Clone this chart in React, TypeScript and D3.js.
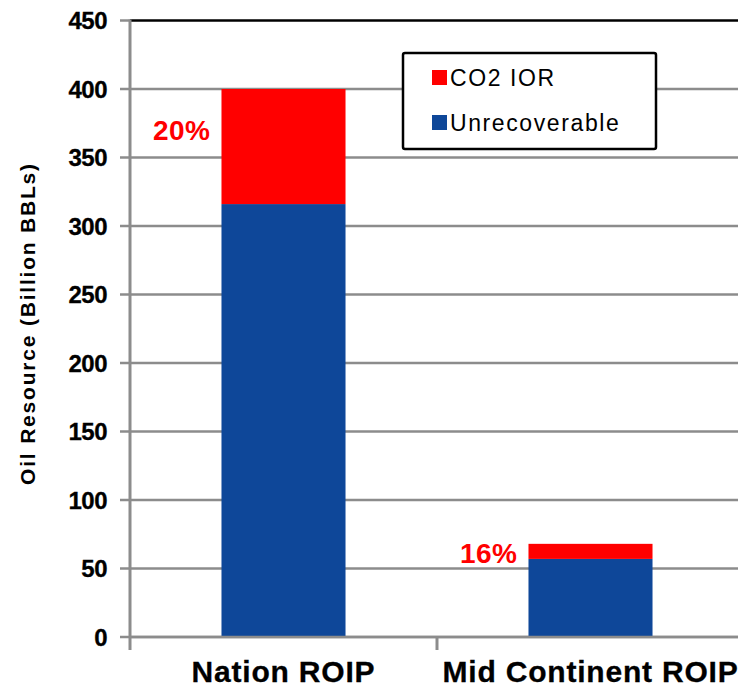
import * as d3 from "d3";

const categories = ["Nation ROIP", "Mid Continent ROIP"];
const unrecoverable = [316, 57];
const co2Ior = [84, 11];
const pctLabels = ["20%", "16%"];
const pctLabelValues = [363, 54];
const yTicks = [0, 50, 100, 150, 200, 250, 300, 350, 400, 450];
const seriesNames = ["CO2 IOR", "Unrecoverable"];

const RED = "#FF0000";
const BLUE = "#0E4799";
const GRID = "#8C8C8C";
const FONT = "'Liberation Sans', Arial, sans-serif";

function App() {
  const WIDTH = 738;
  const HEIGHT = 689;
  const left = 130;

  const y = d3.scaleLinear().domain([0, 450]).range([637, 20.5]);
  const x = d3.scaleBand().domain(categories).range([left, 744]).padding(0);
  const barW = x.bandwidth() * 0.404;

  const stacked = categories.map((c, i) => ({
    cat: c,
    blue: unrecoverable[i],
    red: co2Ior[i],
  }));

  return (
    <svg
      width={WIDTH}
      height={HEIGHT}
      style={{ position: "absolute", left: 0, top: 0, background: "white" }}
      fontFamily={FONT}
    >
      {/* gridlines + tick labels */}
      {yTicks.map((t) => (
        <g key={t}>
          <line
            x1={t === 450 ? left : left - 10}
            x2={WIDTH}
            y1={y(t)}
            y2={y(t)}
            stroke={t === 450 ? "#000" : GRID}
            strokeWidth={2.5}
          />
          {t === 450 && (
            <line x1={left - 10} x2={left} y1={y(t)} y2={y(t)} stroke={GRID} strokeWidth={2.5} />
          )}
          <text
            x={107}
            y={y(t)}
            dy="0.36em"
            textAnchor="end"
            fontSize={24}
            fontWeight="bold"
            letterSpacing={-0.5}
            stroke="#000"
            strokeWidth={0.3}
          >
            {t}
          </text>
        </g>
      ))}

      {/* bars */}
      {stacked.map((d) => {
        const cx = (x(d.cat) as number) + x.bandwidth() / 2;
        return (
          <g key={d.cat}>
            <rect x={cx - barW / 2} y={y(d.blue)} width={barW} height={y(0) - y(d.blue)} fill={BLUE} />
            <rect
              x={cx - barW / 2}
              y={y(d.blue + d.red)}
              width={barW}
              height={y(d.blue) - y(d.blue + d.red)}
              fill={RED}
            />
          </g>
        );
      })}

      {/* axes */}
      <line x1={left} x2={left} y1={y(450) - 1} y2={650} stroke={GRID} strokeWidth={3} />
      <line x1={left} x2={WIDTH} y1={y(0)} y2={y(0)} stroke={GRID} strokeWidth={2.5} />
      {categories.map((c) => (
        <line
          key={c}
          x1={(x(c) as number) + x.bandwidth()}
          x2={(x(c) as number) + x.bandwidth()}
          y1={y(0)}
          y2={650}
          stroke={GRID}
          strokeWidth={3}
        />
      ))}

      {/* category labels */}
      {categories.map((c) => (
        <text
          key={c}
          x={(x(c) as number) + x.bandwidth() / 2}
          y={682}
          textAnchor="middle"
          fontSize={30}
          fontWeight="bold"
          letterSpacing={0.8}
          stroke="#000"
          strokeWidth={0.3}
        >
          {c}
        </text>
      ))}

      {/* percentage annotations */}
      {categories.map((c, i) => (
        <text
          key={c}
          x={(x(c) as number) + x.bandwidth() / 2 - barW / 2 - 11}
          y={y(pctLabelValues[i])}
          textAnchor="end"
          fontSize={28}
          fontWeight="bold"
          fill={RED}
          letterSpacing={0.5}
        >
          {pctLabels[i]}
        </text>
      ))}

      {/* y axis title */}
      <text
        transform={`translate(35, ${(155 + 492) / 2}) rotate(-90)`}
        textAnchor="middle"
        fontSize={21}
        fontWeight="bold"
        letterSpacing={1.8}
      >
        Oil Resource (Billion BBLs)
      </text>

      {/* legend */}
      <rect x={403} y={53} width={253} height={96} rx={2} fill="white" stroke="#000" strokeWidth={2.5} />
      {seriesNames.map((s, i) => (
        <g key={s} transform={`translate(432, ${70 + i * 45})`}>
          <rect width={15} height={15} fill={i === 0 ? RED : BLUE} />
          <text x={18} y={16} fontSize={23} letterSpacing={1.6}>
            {s}
          </text>
        </g>
      ))}
    </svg>
  );
}

export default App;
